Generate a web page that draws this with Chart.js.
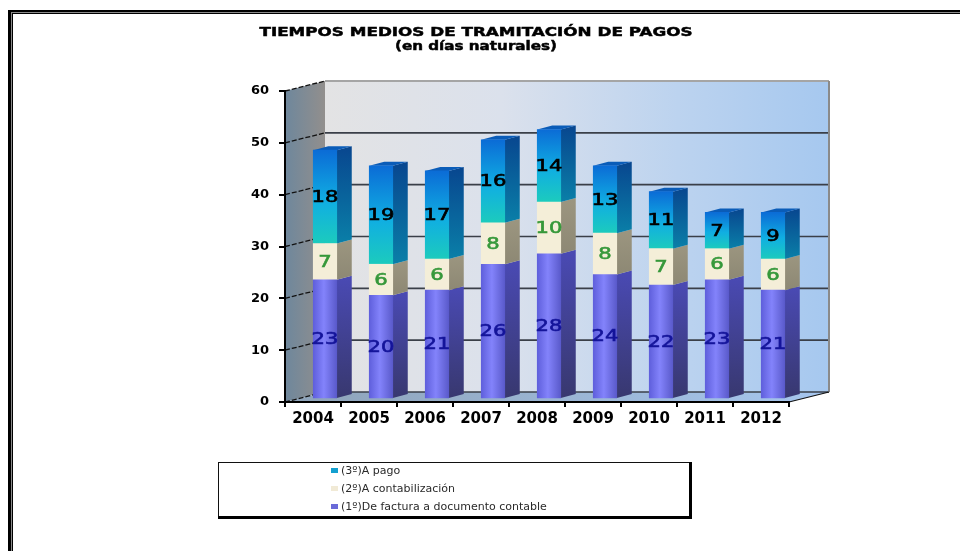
<!DOCTYPE html>
<html><head><meta charset="utf-8">
<style>
html,body{margin:0;padding:0;background:#fff;width:960px;height:551px;overflow:hidden}
#wrap{position:absolute;left:0;top:0;width:952px;height:551px}
#frame{position:absolute;left:8px;top:10px;width:960px;height:560px;border-left:5px solid #000;border-top:4px solid #000;box-sizing:border-box}
#frame:before{content:"";position:absolute;left:-2px;top:-2px;width:2000px;height:1px;background:#8a8a8a}
#frame:after{content:"";position:absolute;left:-2px;top:-2px;width:1px;height:600px;background:#8a8a8a}
</style></head><body>
<div id="wrap"><canvas id="c" width="952" height="551"></canvas></div>
<div id="frame"></div>
<script src="https://cdn.jsdelivr.net/npm/chart.js@4/dist/chart.umd.min.js"></script>
<script>
const categories=['2004','2005','2006','2007','2008','2009','2010','2011','2012'];
const primero=[23,20,21,26,28,24,22,23,21];
const segundo=[7,6,6,8,10,8,7,6,6];
const tercero=[18,19,17,16,14,13,11,7,9];
const seriesNames=['(1º)De factura a documento contable','(2º)A contabilización','(3º)A pago'];
const titleLines=['TIEMPOS MEDIOS DE TRAMITACIÓN DE PAGOS','(en días naturales)'];

const BAR={dx:12,dy:-3,depthX:15,depthY:-4};
const WALL={dx:40,dy:-10};
const labelColors=['#14149a','#36983a','#000000'];
const legendSwatch=['#6a6ad8','#f1ead6','#14a0d0'];

function frontFill(c){
  const chart=c.chart;
  if(c.type!=='data')return legendSwatch[c.datasetIndex];
  const ctx=chart.ctx,xs=chart.scales.x,ys=chart.scales.y;
  const x=xs.getPixelForValue(c.dataIndex),w=23.5;
  if(!isFinite(x))return legendSwatch[c.datasetIndex];
  if(c.datasetIndex===0){
    const g=ctx.createLinearGradient(x-w/2,0,x+w/2,0);
    g.addColorStop(0,'#5f5fdc');g.addColorStop(.45,'#8383fb');g.addColorStop(1,'#5a5acb');return g;
  }
  if(c.datasetIndex===1)return '#f4eed8';
  const top=primero[c.dataIndex]+segundo[c.dataIndex]+tercero[c.dataIndex];
  const base=primero[c.dataIndex]+segundo[c.dataIndex];
  const y0=ys.getPixelForValue(top),y1=ys.getPixelForValue(base);
  if(!isFinite(y0)||!isFinite(y1))return legendSwatch[2];
  const g=ctx.createLinearGradient(0,y0,0,y1);
  g.addColorStop(0,'#0b6cd6');g.addColorStop(.55,'#10aee2');g.addColorStop(1,'#1ccbbd');return g;
}
const depth3d={
  id:'depth3d',
  beforeDraw(chart){
    const {ctx,chartArea:a,scales:{y}}=chart;
    const L=a.left,R=a.right,T=a.top,B=a.bottom,dx=WALL.dx,dy=WALL.dy;
    ctx.save();
    let g=ctx.createLinearGradient(L,0,L+dx,0);
    g.addColorStop(0,'#6e879c');g.addColorStop(1,'#928f8d');
    ctx.fillStyle=g;ctx.beginPath();ctx.moveTo(L,T);ctx.lineTo(L+dx,T+dy);ctx.lineTo(L+dx,B+dy);ctx.lineTo(L,B);ctx.closePath();ctx.fill();
    g=ctx.createLinearGradient(L+dx,0,R+dx,0);
    g.addColorStop(0,'#e3e3e4');g.addColorStop(.35,'#dbe1ec');g.addColorStop(.7,'#bcd3ef');g.addColorStop(1,'#a6c8ef');
    ctx.fillStyle=g;ctx.fillRect(L+dx,T+dy,R-L,B-T);
    g=ctx.createLinearGradient(L,0,R+dx,0);
    g.addColorStop(0,'#8ea3b8');g.addColorStop(1,'#a6c6ee');
    ctx.fillStyle=g;ctx.beginPath();ctx.moveTo(L,B);ctx.lineTo(L+dx,B+dy);ctx.lineTo(R+dx,B+dy);ctx.lineTo(R,B);ctx.closePath();ctx.fill();
    y.ticks.forEach(t=>{
      const py=y.getPixelForValue(t.value);
      ctx.strokeStyle=t.value===60?'#a5a5a5':'#3a3f48';ctx.lineWidth=t.value===60?2:1.6;
      ctx.beginPath();ctx.moveTo(L+dx,py+dy);ctx.lineTo(R+dx,py+dy);ctx.stroke();
      ctx.strokeStyle='#111';ctx.lineWidth=1.3;ctx.setLineDash([5,2]);
      ctx.beginPath();ctx.moveTo(L,py);ctx.lineTo(L+dx,py+dy);ctx.stroke();ctx.setLineDash([]);
    });
    ctx.strokeStyle='#8a8a8a';ctx.lineWidth=2;
    ctx.beginPath();ctx.moveTo(R+dx,T+dy);ctx.lineTo(R+dx,B+dy);ctx.stroke();
    ctx.strokeStyle='#111';ctx.lineWidth=1.2;
    ctx.beginPath();ctx.moveTo(R,B);ctx.lineTo(R+dx,B+dy);ctx.stroke();
    const stretch=[1.29,1.166],ty=[33,47];
    ctx.font='bold 13px "DejaVu Sans"';ctx.textAlign='center';ctx.textBaseline='middle';
    ctx.fillStyle='#000';ctx.strokeStyle='#000';ctx.lineWidth=.5;
    titleLines.forEach((s,i)=>{
      ctx.save();ctx.translate(476,ty[i]);ctx.scale(stretch[i],1);
      ctx.fillText(s,0,0);ctx.strokeText(s,0,0);ctx.restore();
    });
    ctx.restore();
  },
  beforeDatasetsDraw(chart){
    const ctx=chart.ctx;
    ctx.save();
    ctx.translate(BAR.dx,BAR.dy);
    const sides=[['#4a4ab4','#38386f'],['#9c9680','#8d8874'],['#08468f','#0a7fa8']];
    chart.data.datasets.forEach((d,di)=>{
      chart.getDatasetMeta(di).data.forEach(el=>{
        const r=el.x+el.width/2,l=el.x-el.width/2,t=el.y,b=el.base;
        const dx=BAR.depthX,dy=BAR.depthY;
        const g=ctx.createLinearGradient(0,t+dy,0,b);
        g.addColorStop(0,sides[di][0]);g.addColorStop(1,sides[di][1]);
        ctx.fillStyle=g;
        ctx.beginPath();ctx.moveTo(r,t);ctx.lineTo(r+dx,t+dy);ctx.lineTo(r+dx,b+dy);ctx.lineTo(r,b);ctx.closePath();ctx.fill();
        if(di===2){
          ctx.fillStyle='#0a5cb8';
          ctx.beginPath();ctx.moveTo(l,t);ctx.lineTo(r,t);ctx.lineTo(r+dx,t+dy);ctx.lineTo(l+dx,t+dy);ctx.closePath();ctx.fill();
        }
      });
    });
  },
  afterDatasetsDraw(chart){
    const ctx=chart.ctx;
    chart.data.datasets.forEach((d,di)=>{
      chart.getDatasetMeta(di).data.forEach((el,i)=>{
        ctx.save();
        ctx.translate(el.x,(el.y+el.base)/2+1);
        ctx.scale(1.32,1);
        ctx.font='16px "DejaVu Sans"';
        ctx.fillStyle=labelColors[di];
        ctx.strokeStyle=labelColors[di];ctx.lineWidth=.6;
        ctx.textAlign='center';ctx.textBaseline='middle';
        ctx.fillText(String(d.data[i]),0,0);
        ctx.strokeText(String(d.data[i]),0,0);
        ctx.restore();
      });
    });
    ctx.restore();
  },
  afterDraw(chart){
    const ctx=chart.ctx,bx=218,by=462,bw=472,bh=55;
    ctx.save();
    ctx.fillStyle='#fff';ctx.fillRect(bx,by,bw,bh);
    ctx.strokeStyle='#111';ctx.lineWidth=1;ctx.strokeRect(bx+.5,by+.5,bw,bh);
    ctx.fillStyle='#000';ctx.fillRect(bx+bw-1,by,3,bh+2);ctx.fillRect(bx,by+bh-1,bw+2,3);
    ctx.font='11px "DejaVu Sans"';ctx.textBaseline='middle';ctx.textAlign='left';
    [2,1,0].forEach((di,row)=>{
      const ry=471+row*18;
      ctx.fillStyle=legendSwatch[di];ctx.fillRect(331,ry-3,7,5);
      ctx.fillStyle='#2a2a2a';ctx.fillText(seriesNames[di],341,ry);
    });
    ctx.restore();
  }
};
new Chart(document.getElementById('c'),{
  type:'bar',
  data:{labels:categories,datasets:[
    {label:seriesNames[0],data:primero,backgroundColor:frontFill,barThickness:23.5,borderWidth:0,clip:false},
    {label:seriesNames[1],data:segundo,backgroundColor:frontFill,barThickness:23.5,borderWidth:0,clip:false},
    {label:seriesNames[2],data:tercero,backgroundColor:frontFill,barThickness:23.5,borderWidth:0,clip:false}
  ]},
  options:{
    responsive:false,animation:false,
    layout:{padding:{left:0,right:163,top:91,bottom:119}},
    plugins:{
      colors:{enabled:false},
      legend:{display:false},tooltip:{enabled:false},title:{display:false}
    },
    scales:{
      x:{stacked:true,
        afterFit(s){s.height=30;},
        border:{display:true,color:'#000',width:2},
        grid:{display:true,drawOnChartArea:false,drawTicks:true,tickLength:5,color:'#000',lineWidth:2,offset:true},
        ticks:{color:'#000',padding:3,maxRotation:0,font:{family:'"DejaVu Sans"',size:15,weight:'bold'}}},
      y:{stacked:true,min:0,max:60,
        afterFit(s){s.width=285;},
        border:{display:true,color:'#000',width:2},
        grid:{display:true,drawOnChartArea:false,drawTicks:true,tickLength:6,color:'#000',lineWidth:2},
        ticks:{stepSize:10,color:'#000',padding:10,font:{family:'"DejaVu Sans"',size:13,weight:'bold'}}}
    }
  },
  plugins:[depth3d]
});
</script>
</body></html>
